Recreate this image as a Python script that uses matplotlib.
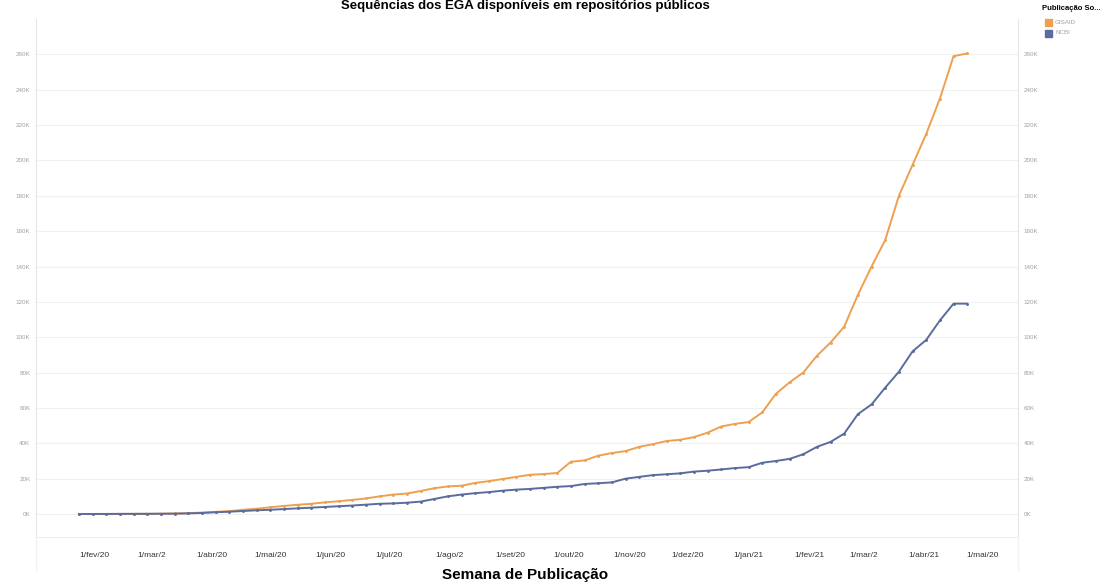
import numpy as np
import pandas as pd
import matplotlib
matplotlib.use("Agg")
import matplotlib.pyplot as plt
from matplotlib.ticker import FuncFormatter
from matplotlib.patches import Rectangle

plt.rcParams["font.family"] = ["Liberation Sans", "DejaVu Sans"]

# semanas de publicação (acumulado, em milhares de sequências)
semanas = pd.date_range("2020-01-24", periods=66, freq="7D")

gisaid_k = [0.0, 0.02, 0.05, 0.08, 0.1, 0.15, 0.2, 0.3, 0.5, 0.8,
            1.2, 1.6, 2.4, 3.0, 3.8, 4.6, 5.2, 5.8, 6.6, 7.2,
            8.0, 8.8, 10.0, 11.0, 11.6, 13.0, 14.6, 15.6, 16.0, 17.6,
            18.6, 19.8, 21.0, 22.2, 22.6, 23.2, 29.6, 30.3, 33.0, 34.5,
            35.6, 38.0, 39.5, 41.3, 42.0, 43.5, 46.0, 49.5, 51.0, 52.0,
            57.5, 68.0, 74.5, 80.0, 89.5, 97.0, 106.0, 124.0, 140.0, 155.0,
            180.0, 197.5, 215.0, 235.0, 259.0, 260.5]

ncbi_k = [0.0, 0.02, 0.04, 0.06, 0.08, 0.1, 0.15, 0.2, 0.35, 0.6,
          1.0, 1.3, 1.7, 2.1, 2.4, 2.8, 3.2, 3.6, 4.0, 4.4,
          4.8, 5.3, 5.8, 6.0, 6.4, 7.0, 8.5, 10.0, 11.0, 11.8,
          12.4, 13.2, 13.8, 14.2, 14.8, 15.4, 15.8, 17.0, 17.4, 17.9,
          20.0, 21.0, 22.0, 22.5, 23.0, 24.0, 24.5, 25.2, 26.0, 26.5,
          29.0, 30.0, 31.2, 33.8, 38.0, 40.8, 45.5, 56.5, 62.0, 71.5,
          80.5, 92.0, 98.5, 109.5, 119.0, 119.0]

fontes = ["GISAID", "NCBI"]
cores = ["#EDA14F", "#5A6C9E"]

meses = pd.date_range("2020-02-01", "2021-05-01", freq="MS")
rotulos_meses = ["1/fev/20", "1/mar/2", "1/abr/20", "1/mai/20", "1/jun/20",
                 "1/jul/20", "1/ago/2", "1/set/20", "1/out/20", "1/nov/20",
                 "1/dez/20", "1/jan/21", "1/fev/21", "1/mar/2", "1/abr/21",
                 "1/mai/20"]

W, H = 1107, 585
fig = plt.figure(figsize=(W / 100, H / 100), dpi=100)
# área do gráfico em pixels: x 36..1018, y 19..537
ax = fig.add_axes([36 / W, 1 - 537 / H, (1018 - 36) / W, (537 - 19) / H])

series = [np.array(gisaid_k) * 1000, np.array(ncbi_k) * 1000]
for vals, cor, nome in zip(series, cores, fontes):
    ax.plot(semanas, vals, color=cor, lw=1.4, marker="o", ms=1.1,
            mec=cor, mfc=cor, label=nome, zorder=3)

ax.set_ylim(-13000, 280000)
ax.set_xlim(pd.Timestamp("2020-01-02"), pd.Timestamp("2021-05-19"))

ax.set_yticks(np.arange(0, 260001, 20000))
ax.yaxis.set_major_formatter(FuncFormatter(lambda v, p: f"{int(v / 1000)}K"))
ax.tick_params(axis="y", length=0, labelsize=4.5, labelcolor="#a0a0a0",
               pad=4, labelright=True, right=False)
ax.grid(axis="y", color="#f0f0f0", lw=0.8)
ax.set_axisbelow(True)

ax.set_xticks(meses)
ax.set_xticklabels(rotulos_meses)
ax.tick_params(axis="x", length=0, labelsize=6, labelcolor="#333333", pad=11)

ax.spines["top"].set_visible(False)
ax.spines["left"].set_color("#e6e6e6")
ax.spines["right"].set_color("#e6e6e6")
ax.spines["bottom"].set_color("#eeeeee")

# linhas verticais continuam abaixo do eixo
for xf in (36 / W, 1018 / W):
    fig.add_artist(plt.Line2D([xf, xf], [1 - 570 / H, 1 - 537 / H],
                              color="#f0f0f0", lw=1))

fig.text(525 / W, 1 - 575 / H, "Semana de Publicação", ha="center",
         va="center", fontsize=11, fontweight="bold")
fig.text(525 / W, 1 - 0.5 / H, "Sequências dos EGA disponíveis em repositórios públicos",
         ha="center", va="top", fontsize=9.5, fontweight="bold")

# legenda manual no canto superior direito
fig.text(1042 / W, 1 - 9 / H, "Publicação So...", ha="left", va="center",
         fontsize=5.5, fontweight="bold")
for i, (nome, cor) in enumerate(zip(fontes, cores)):
    yc = 22 + i * 11
    fig.add_artist(Rectangle((1045 / W, 1 - (yc + 3.5) / H), 7 / W, 7 / H,
                             transform=fig.transFigure, color=cor))
    fig.text(1055 / W, 1 - yc / H, nome, ha="left", va="center",
             fontsize=4.5, color="#a0a0a0")

fig.savefig("out.png", dpi=100)
